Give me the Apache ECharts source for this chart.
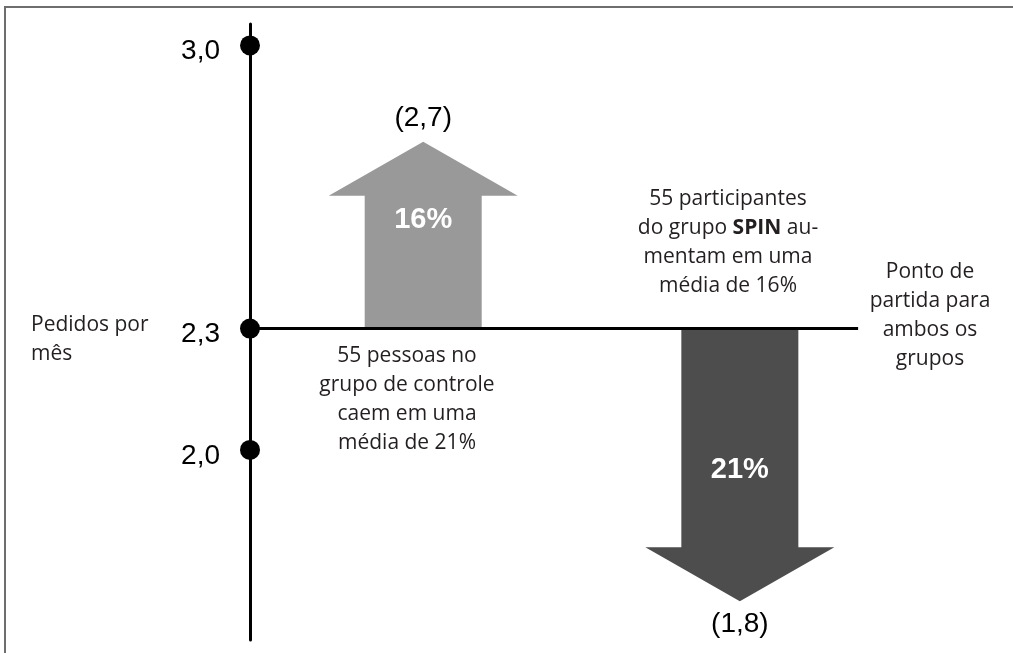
<!DOCTYPE html>
<html>
<head>
<meta charset="utf-8">
<script src="https://cdn.jsdelivr.net/npm/echarts@6/dist/echarts.min.js"></script>
<style>
html,body{margin:0;padding:0;background:#fff;}
#chart{width:1013px;height:653px;}
</style>
</head>
<body>
<div id="chart"></div>
<script>
// ---- data ----
const tickValues = [3.0, 2.3, 2.0];
const tickLabels = ['3,0', '2,3', '2,0'];
const baseline = 2.3;
const baselineEndX = 79.7;            // horizontal extent of the starting line (x units 0..100)
const arrowX = [22.7, 64.2];          // arrow centres (x units 0..100)
const arrowTips = [2.762, 1.626];     // where the drawn arrow tips reach on the value axis
const arrowPct = ['16%', '21%'];
const arrowEndLabels = ['(2,7)', '(1,8)'];
const axisName = 'Pedidos por\nmês';
const noteSpin = '55 participantes\ndo grupo {b|SPIN} au-\nmentam em uma\nmédia de 16%';
const noteStart = 'Ponto de\npartida para\nambos os\ngrupos';
const noteControl = '55 pessoas no\ngrupo de controle\ncaem em uma\nmédia de 21%';

// ---- styles ----
const arrowColors = ['#999999', '#4d4d4d'];
const pctOffset = [24, -77];   // pixel offset of percentage label from the head base
const numFamily = '"Liberation Sans", Arial, sans-serif';
const numFont = '28px ' + numFamily;
const noteFamily = '"Open Sans", "Noto Sans", sans-serif';
const noteFont = '21px ' + noteFamily;
const noteColor = '#231f20';

const chart = echarts.init(document.getElementById('chart'), null, {renderer: 'canvas'});

const arrowData = arrowX.map((x, i) => [x, baseline, arrowTips[i], i]);

const option = {
  animation: false,
  backgroundColor: '#ffffff',
  grid: {left: 250, right: 0, top: 24, bottom: 13},
  xAxis: {type: 'value', min: 0, max: 100, show: false},
  yAxis: {
    type: 'value', min: 1.53, max: 3.053,
    axisLine: {show: true, lineStyle: {color: '#000', width: 3}},
    axisTick: {show: false}, axisLabel: {show: false}, splitLine: {show: false}
  },
  series: [
    {
      type: 'custom',
      z: 2,
      data: arrowData,
      renderItem: function (params, api) {
        const idx = api.value(3);
        const start = api.coord([api.value(0), api.value(1)]);
        const tip = api.coord([api.value(0), api.value(2)]);
        const cx = start[0];
        const dir = tip[1] > start[1] ? 1 : -1;
        const headLen = 54, sh = 58.5, hh = 94.5;
        const hb = tip[1] - dir * headLen;
        return {
          type: 'group',
          children: [
            {
              type: 'polygon',
              shape: {points: [
                [cx - sh, start[1]], [cx - sh, hb], [cx - hh, hb], [cx, tip[1]],
                [cx + hh, hb], [cx + sh, hb], [cx + sh, start[1]]
              ]},
              style: {fill: arrowColors[idx]}
            },
            {
              type: 'text',
              style: {
                text: arrowPct[idx], x: cx, y: hb + pctOffset[idx],
                align: 'center', verticalAlign: 'middle',
                font: 'bold 29px ' + numFamily, fill: '#ffffff'
              }
            },
            {
              type: 'text',
              style: {
                text: arrowEndLabels[idx], x: cx, y: tip[1] + dir * 23,
                align: 'center', verticalAlign: 'middle',
                font: numFont, fill: '#000'
              }
            }
          ]
        };
      }
    },
    {
      type: 'line',
      z: 3,
      data: [[0, baseline], [baselineEndX, baseline]],
      symbol: 'none',
      lineStyle: {color: '#000', width: 3},
      silent: true
    },
    {
      type: 'scatter',
      z: 4,
      data: tickValues.map((v, i) => ({value: [0, v], label: {formatter: tickLabels[i]}})),
      symbolSize: 20,
      itemStyle: {color: '#000', opacity: 1},
      label: {
        show: true, position: 'left', distance: 20, offset: [0, 6],
        fontSize: 28, fontFamily: numFamily, color: '#000'
      },
      emphasis: {disabled: true}
    }
  ],
  graphic: [
    {type: 'line', shape: {x1: 5, y1: 6, x2: 5, y2: 653}, style: {stroke: '#6e6e6e', lineWidth: 2}},
    {type: 'line', shape: {x1: 4, y1: 7, x2: 1013, y2: 7}, style: {stroke: '#6e6e6e', lineWidth: 2}},
    {type: 'text', x: 31, y: 310.5, style: {text: axisName, font: noteFont, fill: noteColor, lineHeight: 29, align: 'left', verticalAlign: 'top'}},
    {type: 'text', x: 728, y: 184.5, style: {
      text: noteSpin, font: noteFont, fill: noteColor, lineHeight: 29, align: 'center', verticalAlign: 'top',
      rich: {b: {fontWeight: 'bold', fontSize: 21, fontFamily: noteFamily, lineHeight: 29, fill: noteColor}}
    }},
    {type: 'text', x: 930, y: 257.5, style: {text: noteStart, font: noteFont, fill: noteColor, lineHeight: 29, align: 'center', verticalAlign: 'top'}},
    {type: 'text', x: 407, y: 341.5, style: {text: noteControl, font: noteFont, fill: noteColor, lineHeight: 29, align: 'center', verticalAlign: 'top'}}
  ]
};

chart.setOption(option);
</script>
</body>
</html>
